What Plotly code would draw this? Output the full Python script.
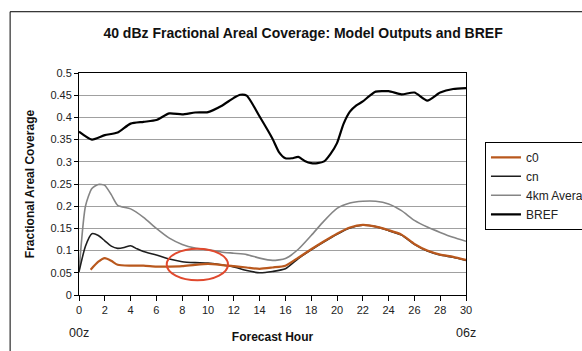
import plotly.graph_objects as go

# Forecast hours and coverage fractions for each series
hours_c0 = [0.9, 1.5, 2, 2.5, 3, 4, 5, 6, 7, 8, 9, 10, 11, 12, 13, 14, 15, 16, 17, 18, 19,
            20, 21, 22, 23, 24, 25, 26, 27, 28, 29, 30]
c0 = [0.057, 0.075, 0.083, 0.077, 0.068, 0.066, 0.066, 0.064, 0.064, 0.065, 0.068, 0.070,
      0.068, 0.065, 0.062, 0.059, 0.062, 0.066, 0.084, 0.103, 0.121, 0.138, 0.152, 0.158,
      0.154, 0.146, 0.136, 0.115, 0.100, 0.091, 0.086, 0.079]

hours_cn = [0, 0.5, 1, 1.5, 2, 2.5, 3, 3.5, 4, 4.5, 5, 6, 7, 8, 9, 10, 11, 12, 13, 14, 15,
            16, 17, 18, 19, 20, 21, 22, 23, 24, 25, 26, 27, 28, 29, 30]
cn = [0.052, 0.110, 0.138, 0.134, 0.122, 0.110, 0.105, 0.107, 0.111, 0.104, 0.098, 0.090,
      0.081, 0.075, 0.073, 0.072, 0.068, 0.063, 0.055, 0.050, 0.053, 0.059, 0.082, 0.102,
      0.120, 0.137, 0.151, 0.157, 0.154, 0.145, 0.135, 0.114, 0.099, 0.090, 0.085, 0.078]

hours_4km = [0, 0.5, 1, 1.5, 2, 2.5, 3, 4, 5, 6, 7, 8, 9, 10, 11, 12, 13, 14, 15, 16, 17,
             18, 19, 20, 21, 22, 23, 24, 25, 26, 27, 28, 29, 30]
avg_4km = [0.052, 0.200, 0.240, 0.249, 0.247, 0.226, 0.202, 0.194, 0.175, 0.150, 0.128,
           0.114, 0.106, 0.102, 0.097, 0.094, 0.091, 0.083, 0.078, 0.082, 0.103, 0.134,
           0.167, 0.195, 0.207, 0.211, 0.211, 0.205, 0.190, 0.168, 0.153, 0.141, 0.130, 0.121]

hours_bref = [0, 1, 2, 3, 4, 5, 6, 7, 8, 9, 10, 11, 12, 12.5, 13, 14, 15, 15.5, 16, 16.5,
              17, 17.5, 18, 18.5, 19, 19.5, 20, 20.5, 21, 21.5, 22, 22.5, 23, 24, 25, 26,
              27, 28, 29, 30]
bref = [0.368, 0.350, 0.360, 0.366, 0.386, 0.390, 0.394, 0.409, 0.407, 0.411, 0.412, 0.425,
        0.444, 0.451, 0.449, 0.402, 0.352, 0.322, 0.308, 0.308, 0.311, 0.302, 0.297, 0.297,
        0.301, 0.318, 0.342, 0.385, 0.413, 0.427, 0.436, 0.448, 0.458, 0.459, 0.452, 0.456,
        0.438, 0.456, 0.464, 0.466]

x_ticks = list(range(0, 31, 2))
y_ticks = [0, 0.05, 0.1, 0.15, 0.2, 0.25, 0.3, 0.35, 0.4, 0.45, 0.5]

FONT = "Liberation Sans, Arial, sans-serif"

fig = go.Figure()
# (name, hours, values, colour, width, legend position); drawn back to front
series = [
    ("4km Average", hours_4km, avg_4km, "#858585", 1.6, 3),
    ("BREF", hours_bref, bref, "#000000", 2.2, 4),
    ("cn", hours_cn, cn, "#1e1e1e", 1.6, 2),
    ("c0", hours_c0, c0, "#b9581d", 2.2, 1),
]
for name, xs, ys, color, width, rank in series:
    fig.add_trace(go.Scatter(
        x=xs, y=ys, name=name, mode="lines", legendrank=rank,
        line=dict(color=color, width=width, shape="spline", smoothing=0.6),
    ))

fig.update_layout(
    width=582, height=351,
    margin=dict(l=79, r=116, t=73, b=56, autoexpand=False),
    paper_bgcolor="white", plot_bgcolor="white",
    font=dict(family=FONT, size=11, color="#222"),
    showlegend=True,
    legend=dict(
        x=1.049, y=0.69, xanchor="left", yanchor="top",
        bordercolor="black", borderwidth=1, bgcolor="white",
        font=dict(family=FONT, size=12, color="#222"),
        traceorder="normal", tracegroupgap=0,
        itemclick=False,
    ),
    title=dict(
        text="<b>40 dBz Fractional Areal Coverage: Model Outputs and BREF</b>",
        x=0.579, xanchor="center", xref="paper",
        y=0.905, yanchor="middle", yref="container",
        font=dict(family=FONT, size=14, color="#111"),
    ),
)

fig.update_xaxes(
    range=[0, 30], tickvals=x_ticks, ticks="outside", ticklen=5, tickcolor="black",
    showline=True, linecolor="black", linewidth=1, mirror=True,
    showgrid=False, zeroline=False,
    tickfont=dict(family=FONT, size=11, color="#222"),
    title=dict(text="<b>Forecast Hour</b>", font=dict(family=FONT, size=12, color="#111"),
               standoff=17),
)
fig.update_yaxes(
    range=[0, 0.5], tickvals=y_ticks, ticks="outside", ticklen=4, tickcolor="black",
    showline=True, linecolor="black", linewidth=1, mirror=True,
    showgrid=True, gridcolor="#a0a0a0", gridwidth=1, zeroline=False,
    tickfont=dict(family=FONT, size=11, color="#222"),
    title=dict(text="<b>Fractional Areal Coverage</b>",
               font=dict(family=FONT, size=12, color="#111"), standoff=13),
)

# outer chart frame
fig.add_shape(type="rect", xref="paper", yref="paper",
              x0=-0.178, x1=1.6, y0=-0.4, y1=1.276,
              line=dict(color="black", width=1), fillcolor="rgba(0,0,0,0)", layer="below")

# highlight ellipse around the c0/cn crossing
fig.add_shape(type="circle", xref="x", yref="y",
              x0=6.8, x1=11.55, y0=0.033, y1=0.104,
              line=dict(color="#e0492e", width=2))

# time-of-day markers under the axis ends
fig.add_annotation(text="00z", x=0, y=-0.17, xref="x", yref="paper",
                   yanchor="middle", showarrow=False,
                   font=dict(family=FONT, size=12.5, color="#222"))
fig.add_annotation(text="06z", x=30, y=-0.17, xref="x", yref="paper",
                   yanchor="middle", showarrow=False,
                   font=dict(family=FONT, size=12.5, color="#222"))

fig.write_html("out.html")
